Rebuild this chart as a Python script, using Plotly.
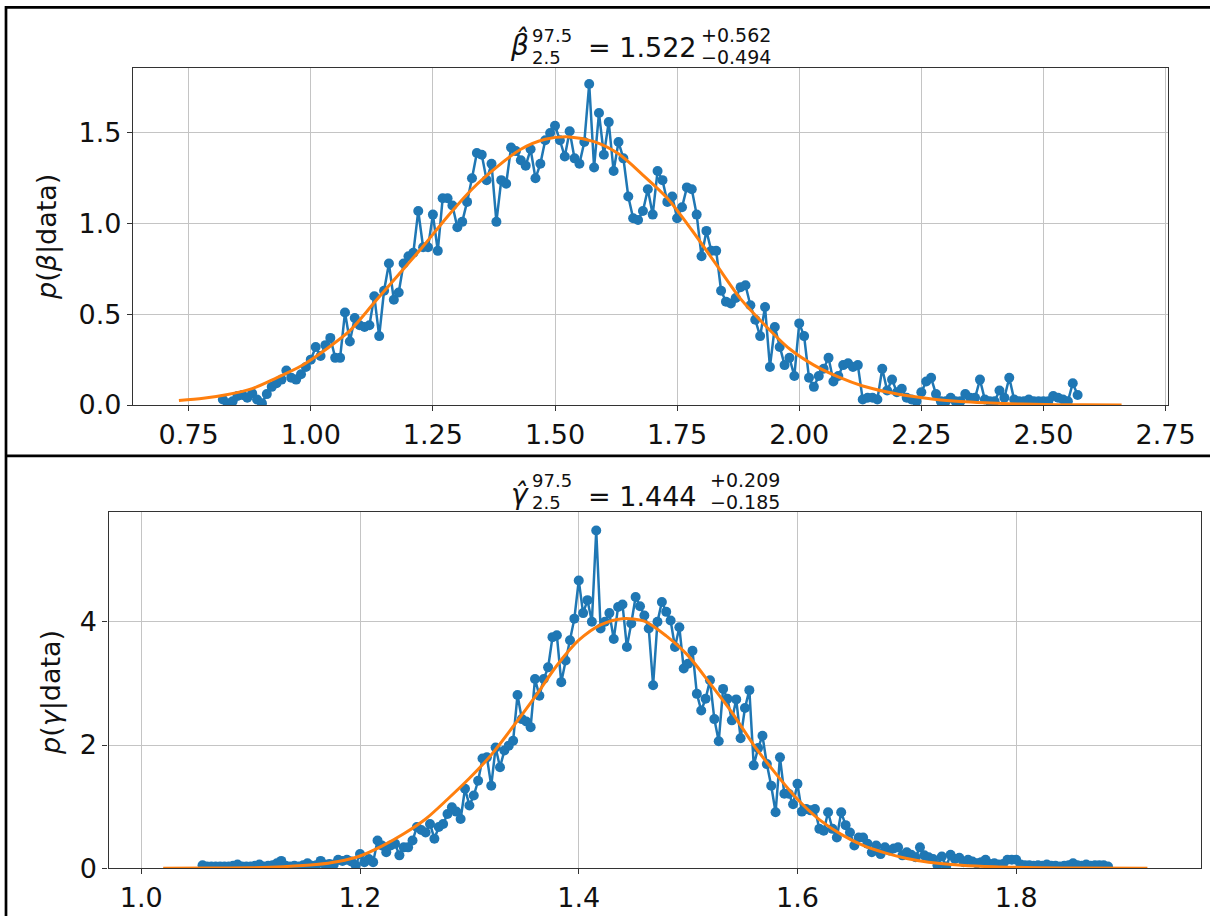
import plotly.graph_objects as go

# ---------------- data ----------------
beta_x = [
    0.82, 0.83, 0.84, 0.85, 0.86, 0.87, 0.88, 0.89, 0.90, 0.91,
    0.92, 0.93, 0.94, 0.95, 0.96, 0.97, 0.98, 0.99, 1.00, 1.01,
    1.02, 1.03, 1.04, 1.05, 1.06, 1.07, 1.08, 1.09, 1.10, 1.11,
    1.12, 1.13, 1.14, 1.15, 1.16, 1.17, 1.18, 1.19, 1.20, 1.21,
    1.22, 1.23, 1.24, 1.25, 1.26, 1.27, 1.28, 1.29, 1.30, 1.31,
    1.32, 1.33, 1.34, 1.35, 1.36, 1.37, 1.38, 1.39, 1.40, 1.41,
    1.42, 1.43, 1.44, 1.45, 1.46, 1.47, 1.48, 1.49, 1.50, 1.51,
    1.52, 1.53, 1.54, 1.55, 1.56, 1.57, 1.58, 1.59, 1.60, 1.61,
    1.62, 1.63, 1.64, 1.65, 1.66, 1.67, 1.68, 1.69, 1.70, 1.71,
    1.72, 1.73, 1.74, 1.75, 1.76, 1.77, 1.78, 1.79, 1.80, 1.81,
    1.82, 1.83, 1.84, 1.85, 1.86, 1.87, 1.88, 1.89, 1.90, 1.91,
    1.92, 1.93, 1.94, 1.95, 1.96, 1.97, 1.98, 1.99, 2.00, 2.01,
    2.02, 2.03, 2.04, 2.05, 2.06, 2.07, 2.08, 2.09, 2.10, 2.11,
    2.12, 2.13, 2.14, 2.15, 2.16, 2.17, 2.18, 2.19, 2.20, 2.21,
    2.22, 2.23, 2.24, 2.25, 2.26, 2.27, 2.28, 2.29, 2.30, 2.31,
    2.32, 2.33, 2.34, 2.35, 2.36, 2.37, 2.38, 2.39, 2.40, 2.41,
    2.42, 2.43, 2.44, 2.45, 2.46, 2.47, 2.48, 2.49, 2.50, 2.51,
    2.52, 2.53, 2.54, 2.55, 2.56, 2.57,
]
beta_p = [
    0.03, 0.01, 0.02, 0.05, 0.055, 0.04, 0.065, 0.03, 0.01, 0.06,
    0.10, 0.12, 0.14, 0.19, 0.15, 0.14, 0.17, 0.21, 0.25, 0.32,
    0.27, 0.33, 0.37, 0.26, 0.26, 0.51, 0.35, 0.48, 0.44, 0.43,
    0.44, 0.60, 0.38, 0.63, 0.78, 0.58, 0.62, 0.78, 0.82, 0.84,
    1.07, 0.87, 0.87, 1.05, 0.85, 1.14, 1.14, 1.10, 0.98, 1.01,
    1.12, 1.25, 1.39, 1.38, 1.24, 1.33, 1.01, 1.24, 1.22, 1.42,
    1.40, 1.35, 1.32, 1.41, 1.25, 1.33, 1.46, 1.50, 1.54, 1.46,
    1.37, 1.51, 1.36, 1.33, 1.45, 1.77, 1.31, 1.61, 1.38, 1.56,
    1.29, 1.45, 1.36, 1.15, 1.03, 1.02, 1.07, 1.19, 1.05, 1.29,
    1.24, 1.12, 1.15, 1.03, 1.09, 1.20, 1.19, 1.05, 0.82, 0.96,
    0.85, 0.85, 0.63, 0.57, 0.56, 0.59, 0.65, 0.66, 0.55, 0.47,
    0.38, 0.54, 0.21, 0.43, 0.32, 0.22, 0.26, 0.16, 0.45, 0.38,
    0.15, 0.10, 0.16, 0.20, 0.26, 0.13, 0.16, 0.22, 0.23, 0.21,
    0.22, 0.03, 0.04, 0.04, 0.03, 0.20, 0.08, 0.14, 0.07, 0.09,
    0.04, 0.03, 0.02, 0.07, 0.13, 0.15, 0.06, 0.02, 0.02, 0.04,
    0.02, 0.02, 0.06, 0.04, 0.04, 0.14, 0.03, 0.02, 0.02, 0.08,
    0.04, 0.15, 0.03, 0.02, 0.02, 0.03, 0.02, 0.02, 0.02, 0.02,
    0.05, 0.04, 0.03, 0.02, 0.12, 0.055,
]
beta_fit_x = [0.73, 0.78, 0.83, 0.88, 0.93, 0.98, 1.03, 1.08, 1.13, 1.18,
              1.23, 1.28, 1.33, 1.38, 1.43, 1.48, 1.53, 1.58, 1.63, 1.68,
              1.73, 1.78, 1.83, 1.88, 1.93, 1.98, 2.03, 2.08, 2.13, 2.18,
              2.23, 2.28, 2.33, 2.38, 2.43, 2.48, 2.53, 2.58, 2.66]
beta_fit_p = [0.025, 0.037, 0.058, 0.09, 0.15, 0.215, 0.305, 0.41, 0.565, 0.72,
              0.875, 1.04, 1.19, 1.31, 1.41, 1.465, 1.478, 1.452, 1.385, 1.268,
              1.14, 0.965, 0.775, 0.585, 0.44, 0.31, 0.22, 0.155, 0.105, 0.072,
              0.048, 0.03, 0.019, 0.012, 0.007, 0.004, 0.002, 0.001, 0.0005]

gamma_x = [
    1.056, 1.060, 1.064, 1.068, 1.072, 1.076, 1.080, 1.084, 1.088, 1.092,
    1.096, 1.100, 1.104, 1.108, 1.112, 1.116, 1.120, 1.124, 1.128, 1.132,
    1.136, 1.140, 1.144, 1.148, 1.152, 1.156, 1.160, 1.164, 1.168, 1.172,
    1.176, 1.180, 1.184, 1.188, 1.192, 1.196, 1.200, 1.204, 1.208, 1.212,
    1.216, 1.220, 1.224, 1.228, 1.232, 1.236, 1.240, 1.244, 1.248, 1.252,
    1.256, 1.260, 1.264, 1.268, 1.272, 1.276, 1.280, 1.284, 1.288, 1.292,
    1.296, 1.300, 1.304, 1.308, 1.312, 1.316, 1.320, 1.324, 1.328, 1.332,
    1.336, 1.340, 1.344, 1.348, 1.352, 1.356, 1.360, 1.364, 1.368, 1.372,
    1.376, 1.380, 1.384, 1.388, 1.392, 1.396, 1.400, 1.404, 1.408, 1.412,
    1.416, 1.420, 1.424, 1.428, 1.432, 1.436, 1.440, 1.444, 1.448, 1.452,
    1.456, 1.460, 1.464, 1.468, 1.472, 1.476, 1.480, 1.484, 1.488, 1.492,
    1.496, 1.500, 1.504, 1.508, 1.512, 1.516, 1.520, 1.524, 1.528, 1.532,
    1.536, 1.540, 1.544, 1.548, 1.552, 1.556, 1.560, 1.564, 1.568, 1.572,
    1.576, 1.580, 1.584, 1.588, 1.592, 1.596, 1.600, 1.604, 1.608, 1.612,
    1.616, 1.620, 1.624, 1.628, 1.632, 1.636, 1.640, 1.644, 1.648, 1.652,
    1.656, 1.660, 1.664, 1.668, 1.672, 1.676, 1.680, 1.684, 1.688, 1.692,
    1.696, 1.700, 1.704, 1.708, 1.712, 1.716, 1.720, 1.724, 1.728, 1.732,
    1.736, 1.740, 1.744, 1.748, 1.752, 1.756, 1.760, 1.764, 1.768, 1.772,
    1.776, 1.780, 1.784, 1.788, 1.792, 1.796, 1.800, 1.804, 1.808, 1.812,
    1.816, 1.820, 1.824, 1.828, 1.832, 1.836, 1.840, 1.844, 1.848, 1.852,
    1.856, 1.860, 1.864, 1.868, 1.872, 1.876, 1.880, 1.884,
]
gamma_p = [
    0.05, 0.03, 0.03, 0.03, 0.03, 0.03, 0.03, 0.04, 0.06, 0.03,
    0.03, 0.03, 0.04, 0.06, 0.03, 0.04, 0.05, 0.08, 0.12, 0.04,
    0.03, 0.04, 0.03, 0.05, 0.08, 0.04, 0.05, 0.12, 0.06, 0.07,
    0.06, 0.14, 0.12, 0.14, 0.11, 0.05, 0.23, 0.10, 0.15, 0.10,
    0.45, 0.37, 0.26, 0.37, 0.40, 0.21, 0.34, 0.34, 0.45, 0.67,
    0.62, 0.58, 0.72, 0.48, 0.67, 0.72, 0.88, 0.99, 0.92, 0.80,
    1.29, 1.02, 1.18, 1.42, 1.78, 1.80, 1.34, 1.96, 1.64, 1.91,
    1.99, 2.07, 2.81, 2.42, 2.38, 2.29, 3.07, 2.80, 3.07, 3.26,
    3.75, 3.78, 3.02, 3.37, 3.70, 4.05, 4.67, 4.14, 4.35, 4.00,
    5.48, 3.89, 4.00, 4.14, 3.72, 4.24, 4.28, 3.59, 3.97, 4.40,
    4.25, 4.10, 3.89, 2.97, 4.00, 4.32, 4.16, 4.02, 3.59, 3.91,
    3.24, 3.32, 3.53, 2.83, 2.56, 2.75, 3.05, 2.42, 2.06, 2.91,
    2.75, 2.40, 2.74, 2.11, 2.60, 2.89, 1.67, 1.95, 2.15, 1.69,
    1.34, 0.91, 1.80, 1.21, 1.21, 1.04, 1.37, 0.92, 0.96, 0.94,
    0.96, 0.64, 0.61, 0.91, 0.64, 0.50, 0.91, 0.70, 0.58, 0.37,
    0.50, 0.50, 0.40, 0.26, 0.37, 0.23, 0.34, 0.29, 0.32, 0.34,
    0.21, 0.26, 0.22, 0.18, 0.34, 0.21, 0.18, 0.15, 0.05, 0.19,
    0.03, 0.22, 0.15, 0.17, 0.10, 0.14, 0.11, 0.08, 0.10, 0.14,
    0.07, 0.08, 0.06, 0.07, 0.14, 0.14, 0.14, 0.06, 0.05, 0.05,
    0.04, 0.05, 0.04, 0.06, 0.04, 0.04, 0.03, 0.04, 0.05, 0.08,
    0.05, 0.04, 0.06, 0.04, 0.05, 0.05, 0.05, 0.03,
]
gamma_fit_x = [1.02, 1.06, 1.10, 1.13, 1.16, 1.18, 1.20, 1.22, 1.24, 1.26,
               1.28, 1.30, 1.32, 1.34, 1.36, 1.38, 1.40, 1.42, 1.44, 1.46,
               1.48, 1.50, 1.52, 1.54, 1.56, 1.58, 1.60, 1.62, 1.64, 1.66,
               1.68, 1.70, 1.72, 1.75, 1.78, 1.82, 1.86, 1.92]
gamma_fit_p = [0.001, 0.003, 0.008, 0.025, 0.06, 0.11, 0.20, 0.36, 0.56, 0.80,
               1.12, 1.46, 1.84, 2.30, 2.78, 3.29, 3.70, 3.95, 4.05, 4.01,
               3.77, 3.45, 3.00, 2.53, 2.00, 1.54, 1.12, 0.79, 0.55, 0.37,
               0.25, 0.16, 0.10, 0.05, 0.025, 0.01, 0.004, 0.001]

beta_xticks = [0.75, 1.00, 1.25, 1.50, 1.75, 2.00, 2.25, 2.50, 2.75]
beta_xticktext = ["0.75", "1.00", "1.25", "1.50", "1.75", "2.00", "2.25", "2.50", "2.75"]
beta_yticks = [0.0, 0.5, 1.0, 1.5]
beta_yticktext = ["0.0", "0.5", "1.0", "1.5"]
gamma_xticks = [1.0, 1.2, 1.4, 1.6, 1.8]
gamma_xticktext = ["1.0", "1.2", "1.4", "1.6", "1.8"]
gamma_yticks = [0, 2, 4]
gamma_yticktext = ["0", "2", "4"]

assert len(beta_x) == len(beta_p)
assert len(gamma_x) == len(gamma_p)
assert len(beta_fit_x) == len(beta_fit_p)
assert len(gamma_fit_x) == len(gamma_fit_p)

# ---------------- layout helpers (pixel -> paper, margins are zero) ----------------
W, H = 1210, 916
FONT = "DejaVu Sans"
BLUE = "#1f77b4"
ORANGE = "#ff7f0e"


def fx(p):
    return p / W


def fy(p):
    return 1 - p / H


fig = go.Figure()

for xs, ys, fxs, fys, xa, ya in [
    (beta_x, beta_p, beta_fit_x, beta_fit_p, "x", "y"),
    (gamma_x, gamma_p, gamma_fit_x, gamma_fit_p, "x2", "y2"),
]:
    fig.add_trace(go.Scatter(
        x=xs, y=ys, mode="lines+markers", xaxis=xa, yaxis=ya,
        line=dict(color=BLUE, width=2.5),
        marker=dict(color=BLUE, size=10, line=dict(width=0)),
        showlegend=False, hoverinfo="x+y"))
    fig.add_trace(go.Scatter(
        x=fxs, y=fys, mode="lines", xaxis=xa, yaxis=ya,
        line=dict(color=ORANGE, width=3, shape="spline", smoothing=0.8),
        showlegend=False, hoverinfo="x+y"))

axis_common = dict(
    showline=True, mirror=True, linecolor="#333333", linewidth=1.2,
    ticks="outside", ticklen=5, tickwidth=1.2, tickcolor="#333333",
    showgrid=True, gridcolor="#c4c4c4", gridwidth=1.2, zeroline=False,
    tickfont=dict(family=FONT, size=27, color="#111111"), automargin=False,
)

fig.update_layout(
    width=W, height=H,
    margin=dict(l=0, r=0, t=0, b=0),
    paper_bgcolor="white", plot_bgcolor="white",
    xaxis=dict(axis_common, domain=[fx(133), fx(1168)], range=[0.636, 2.755],
               tickvals=beta_xticks, ticktext=beta_xticktext, anchor="y"),
    yaxis=dict(axis_common, domain=[fy(405), fy(67.7)], range=[0, 1.86],
               tickvals=beta_yticks, ticktext=beta_yticktext, anchor="x"),
    xaxis2=dict(axis_common, domain=[fx(108.5), fx(1201)], range=[0.970, 1.969],
                tickvals=gamma_xticks, ticktext=gamma_xticktext, anchor="y2"),
    yaxis2=dict(axis_common, domain=[fy(868.3), fy(512.3)], range=[0, 5.775],
                tickvals=gamma_yticks, ticktext=gamma_yticktext, anchor="x2"),
)

# outer frame lines of the picture
frame = dict(type="line", xref="paper", yref="paper", line=dict(color="black", width=2.7))
fig.add_shape(frame, x0=fx(6), x1=fx(6), y0=0, y1=fy(6))
fig.add_shape(frame, x0=fx(5), x1=1, y0=fy(7.3), y1=fy(7.3))
fig.add_shape(frame, x0=fx(5), x1=1, y0=fy(455.8), y1=fy(455.8))


def ann(text, x, y, size, xanchor="left", angle=0):
    fig.add_annotation(
        text=text, x=fx(x), y=fy(y), xref="paper", yref="paper",
        xanchor=xanchor, yanchor="middle", showarrow=False, textangle=angle,
        borderpad=0, font=dict(family=FONT, size=size, color="#111111"))


# y-axis labels
ann("<i>p</i>(<i>β</i>|data)", 47, 237, 27, xanchor="center", angle=-90)
ann("<i>p</i>(<i>γ</i>|data)", 51, 692, 27, xanchor="center", angle=-90)

# titles with stacked sup/sub scripts
ann("<i>β\u0302</i>", 519, 44, 28, xanchor="center")
ann("97.5", 531, 35, 18)
ann("2.5", 531, 57, 18)
ann("= 1.522", 587, 47, 27)
ann("+0.562", 700, 35, 19)
ann("\u22120.494", 700, 57, 19)

ann("<i>γ\u0302</i>", 520, 494, 28, xanchor="center")
ann("97.5", 531, 480, 18)
ann("2.5", 531, 502, 18)
ann("= 1.444", 587, 496, 27)
ann("+0.209", 709, 480, 19)
ann("\u22120.185", 709, 502, 19)

fig.write_html("out.html", config={"displayModeBar": False},
               post_script="document.body.style.margin='0px';")
